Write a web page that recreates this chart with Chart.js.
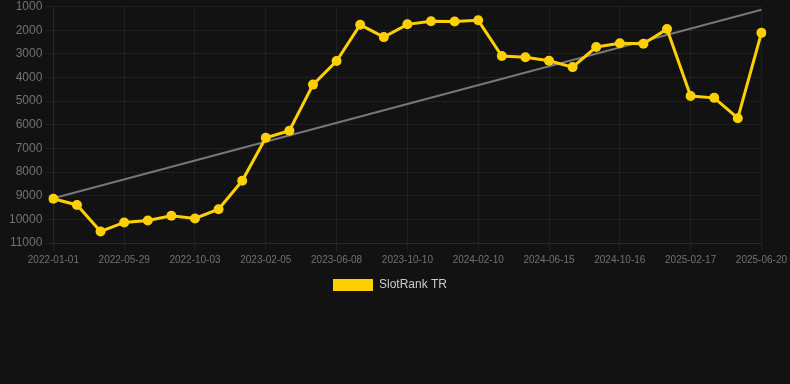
<!DOCTYPE html>
<html>
<head>
<meta charset="utf-8">
<script src="https://cdn.jsdelivr.net/npm/chart.js@4/dist/chart.umd.min.js"></script>
<style>
  html, body { margin:0; padding:0; background:#121212; }
  .wrap { width:790px; height:301px; position:relative; }
</style>
</head>
<body>
<div class="wrap"><canvas id="rankChart"></canvas></div>
<script>
// dates (only every 3rd is shown on the axis)
const dates = [
  '2022-01-01','2022-02-19','2022-04-09','2022-05-29','2022-07-18','2022-08-15',
  '2022-10-03','2022-11-16','2022-12-27','2023-02-05','2023-03-18','2023-04-28',
  '2023-06-08','2023-07-19','2023-08-30','2023-10-10','2023-11-20','2023-12-31',
  '2024-02-10','2024-03-22','2024-05-03','2024-06-15','2024-07-26','2024-09-05',
  '2024-10-16','2024-11-27','2025-01-07','2025-02-17','2025-03-30','2025-05-10',
  '2025-06-20'
];
const ranks = [
  9130, 9390, 10510, 10130, 10050, 9850, 9960, 9570, 8370, 6550, 6250,
  4300, 3300, 1770, 2290, 1750, 1620, 1630, 1580, 3090, 3140,
  3290, 3560, 2710, 2550, 2570, 1950, 4780, 4860, 5720, 2110
];
// trend line end values
const trendEnds = [9110, 1130];
const yTicks = { min: 1000, max: 11000, step: 1000 };

const trend = dates.map((d, i) => i === 0 ? trendEnds[0] : (i === dates.length - 1 ? trendEnds[1] : null));

const tickColor = '#727272';
const gridColor = 'rgba(255,255,255,0.06)';

new Chart(document.getElementById('rankChart'), {
  type: 'line',
  data: {
    labels: dates,
    datasets: [{
      label: 'SlotRank TR',
      data: ranks,
      borderColor: '#ffd000',
      backgroundColor: '#ffd000',
      borderWidth: 3,
      pointRadius: 5,
      pointBackgroundColor: '#ffd000',
      pointBorderWidth: 0,
      tension: 0
    }, {
      label: 'trend',
      data: trend,
      spanGaps: true,
      borderColor: '#777777',
      borderWidth: 2,
      pointRadius: 0,
      tension: 0
    }]
  },
  options: {
    responsive: true, maintainAspectRatio: false, animation: false,
    layout: { padding: { left: 6, right: 16, top: 0, bottom: 0 } },
    plugins: {
      legend: {
        position: 'bottom',
        labels: {
          color: '#cccccc', font: { size: 12, family: 'Arial' }, boxWidth: 40, boxHeight: 12,
          generateLabels(chart) {
            return Chart.defaults.plugins.legend.labels.generateLabels(chart)
              .filter(l => l.text === 'SlotRank TR')
              .map(l => Object.assign(l, { lineWidth: 0, fontColor: '#cccccc' }));
          }
        }
      },
      tooltip: { enabled: false }
    },
    scales: {
      x: {
        grid: { color: gridColor },
        border: { color: '#2a2a2a' },
        ticks: {
          color: tickColor, font: { size: 10, family: 'Arial' }, autoSkip: false, maxRotation: 0,
          callback: function (v, i) { return i % 3 === 0 ? this.getLabelForValue(v) : null; }
        }
      },
      y: {
        reverse: true, min: yTicks.min, max: yTicks.max,
        grid: { color: gridColor },
        border: { color: '#2a2a2a' },
        ticks: {
          stepSize: yTicks.step, color: tickColor, font: { size: 12, family: 'Arial', lineHeight: 0.6 },
          callback: v => String(v)
        }
      }
    }
  }
});
</script>
</body>
</html>
